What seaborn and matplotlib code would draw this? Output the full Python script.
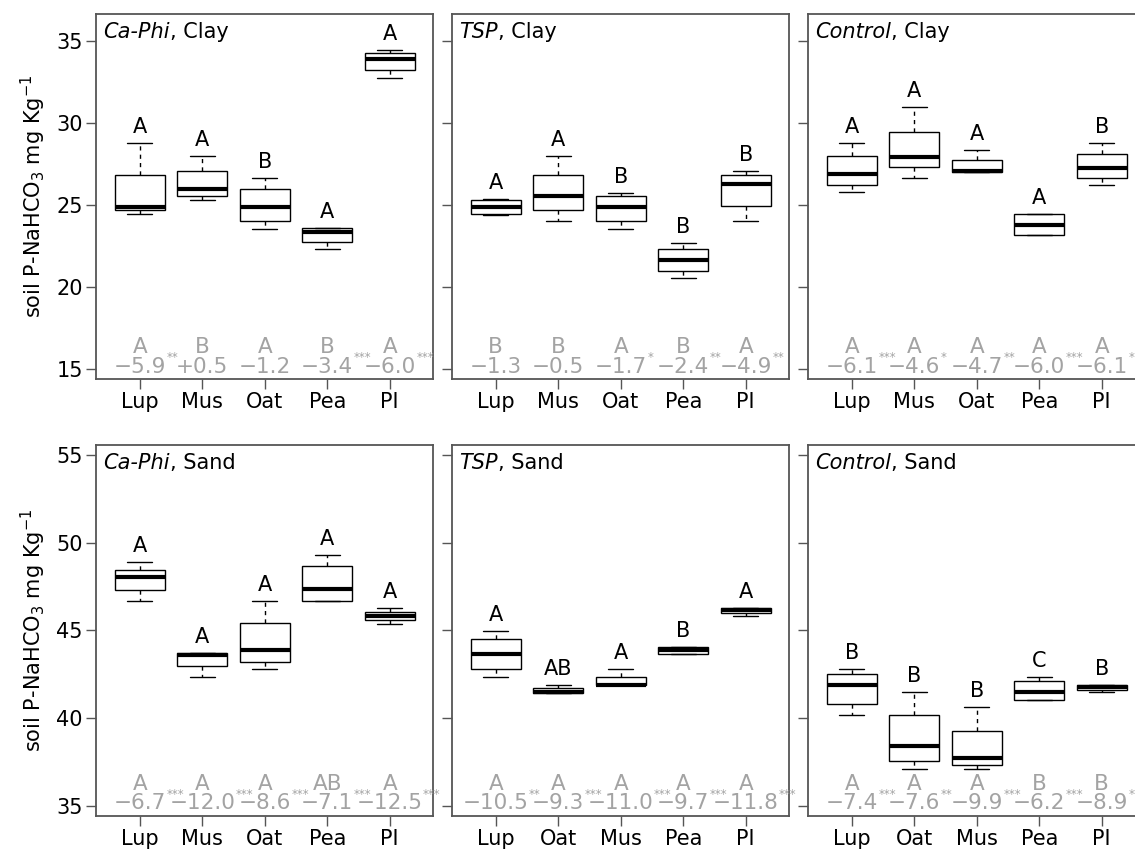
"""
Soil P-NaHCO3 por cultura, fertilizante e solo — recriação do painel 2x3.
Cada caixa é desenhada a partir de cinco valores lidos da figura:
bigode inferior, Q1, mediana, Q3, bigode superior.
"""

import matplotlib
matplotlib.use("Agg")
import matplotlib.pyplot as plt
import pandas as pd
import seaborn as sns

# ── Categorias ─────────────────────────────────────────────────────────────────
CROPS_CLAY = ["Lup", "Mus", "Oat", "Pea", "PI"]
CROPS_SAND_CAPHI = ["Lup", "Mus", "Oat", "Pea", "PI"]
CROPS_SAND_OTHER = ["Lup", "Oat", "Mus", "Pea", "PI"]

# ── Caixas: [bigode inf, Q1, mediana, Q3, bigode sup] ──────────────────────────
CAPHI_CLAY = [
    [24.45, 24.68, 24.88, 26.85, 28.80],
    [25.30, 25.53, 25.98, 27.07, 27.97],
    [23.56, 24.02, 24.88, 25.98, 26.63],
    [22.30, 22.72, 23.37, 23.58, 23.60],
    [32.74, 33.23, 33.92, 34.29, 34.47],
]
TSP_CLAY = [
    [24.40, 24.45, 24.90, 25.30, 25.35],
    [24.02, 24.68, 25.55, 26.85, 27.97],
    [23.56, 24.02, 24.90, 25.55, 25.75],
    [20.53, 20.96, 21.63, 22.30, 22.70],
    [24.02, 24.94, 26.28, 26.85, 27.07],
]
CONTROL_CLAY = [
    [25.77, 26.20, 26.87, 27.97, 28.80],
    [26.63, 27.30, 27.95, 29.47, 30.99],
    [27.00, 27.00, 27.07, 27.72, 28.37],
    [23.15, 23.15, 23.80, 24.43, 24.45],
    [26.22, 26.63, 27.26, 28.09, 28.80],
]
CAPHI_SAND = [
    [46.70, 47.32, 48.03, 48.45, 48.87],
    [42.33, 42.98, 43.60, 43.70, 43.72],
    [42.77, 43.19, 43.86, 45.40, 46.70],
    [46.70, 46.70, 47.34, 48.66, 49.30],
    [45.38, 45.61, 45.82, 46.03, 46.27],
]
TSP_SAND = [
    [42.33, 42.79, 43.64, 44.52, 44.96],
    [41.42, 41.42, 41.48, 41.69, 41.90],
    [41.86, 41.86, 41.91, 42.33, 42.77],
    [43.67, 43.67, 43.87, 44.07, 44.07],
    [45.80, 45.99, 46.14, 46.27, 46.27],
]
CONTROL_SAND = [
    [40.18, 40.81, 41.91, 42.52, 42.77],
    [37.10, 37.53, 38.43, 40.16, 41.46],
    [37.10, 37.33, 37.74, 39.27, 40.60],
    [41.04, 41.04, 41.48, 42.10, 42.33],
    [41.48, 41.62, 41.77, 41.90, 41.90],
]

# ── Letras sobre as caixas ─────────────────────────────────────────────────────
LET_CAPHI_CLAY = ["A", "A", "B", "A", "A"]
LET_TSP_CLAY = ["A", "A", "B", "B", "B"]
LET_CONTROL_CLAY = ["A", "A", "A", "A", "B"]
LET_CAPHI_SAND = ["A", "A", "A", "A", "A"]
LET_TSP_SAND = ["A", "AB", "A", "B", "A"]
LET_CONTROL_SAND = ["B", "B", "B", "C", "B"]

# ── Rodapé cinza: letra, variação, significância ───────────────────────────────
GL_CAPHI_CLAY = ["A", "B", "A", "B", "A"]
CHG_CAPHI_CLAY = ["−5.9", "+0.5", "−1.2", "−3.4", "−6.0"]
SIG_CAPHI_CLAY = ["**", "", "", "***", "***"]

GL_TSP_CLAY = ["B", "B", "A", "B", "A"]
CHG_TSP_CLAY = ["−1.3", "−0.5", "−1.7", "−2.4", "−4.9"]
SIG_TSP_CLAY = ["", "", "*", "**", "**"]

GL_CONTROL_CLAY = ["A", "A", "A", "A", "A"]
CHG_CONTROL_CLAY = ["−6.1", "−4.6", "−4.7", "−6.0", "−6.1"]
SIG_CONTROL_CLAY = ["***", "*", "**", "***", "*"]

GL_CAPHI_SAND = ["A", "A", "A", "AB", "A"]
CHG_CAPHI_SAND = ["−6.7", "−12.0", "−8.6", "−7.1", "−12.5"]
SIG_CAPHI_SAND = ["***", "***", "***", "***", "***"]

GL_TSP_SAND = ["A", "A", "A", "A", "A"]
CHG_TSP_SAND = ["−10.5", "−9.3", "−11.0", "−9.7", "−11.8"]
SIG_TSP_SAND = ["**", "***", "***", "***", "***"]

GL_CONTROL_SAND = ["A", "A", "A", "B", "B"]
CHG_CONTROL_SAND = ["−7.4", "−7.6", "−9.9", "−6.2", "−8.9"]
SIG_CONTROL_SAND = ["***", "**", "***", "***", "**"]

PANELS = [
    # (tratamento, solo, culturas, caixas, letras, letras cinza, variação, sig)
    ("Ca-Phi", "Clay", CROPS_CLAY, CAPHI_CLAY, LET_CAPHI_CLAY,
     GL_CAPHI_CLAY, CHG_CAPHI_CLAY, SIG_CAPHI_CLAY),
    ("TSP", "Clay", CROPS_CLAY, TSP_CLAY, LET_TSP_CLAY,
     GL_TSP_CLAY, CHG_TSP_CLAY, SIG_TSP_CLAY),
    ("Control", "Clay", CROPS_CLAY, CONTROL_CLAY, LET_CONTROL_CLAY,
     GL_CONTROL_CLAY, CHG_CONTROL_CLAY, SIG_CONTROL_CLAY),
    ("Ca-Phi", "Sand", CROPS_SAND_CAPHI, CAPHI_SAND, LET_CAPHI_SAND,
     GL_CAPHI_SAND, CHG_CAPHI_SAND, SIG_CAPHI_SAND),
    ("TSP", "Sand", CROPS_SAND_OTHER, TSP_SAND, LET_TSP_SAND,
     GL_TSP_SAND, CHG_TSP_SAND, SIG_TSP_SAND),
    ("Control", "Sand", CROPS_SAND_OTHER, CONTROL_SAND, LET_CONTROL_SAND,
     GL_CONTROL_SAND, CHG_CONTROL_SAND, SIG_CONTROL_SAND),
]

Y_TICKS = {"Clay": [15, 20, 25, 30, 35], "Sand": [35, 40, 45, 50, 55]}
Y_LIMS = {"Clay": (14.39, 36.65), "Sand": (34.41, 55.57)}

GREY = "#a3a3a3"
FRAME = "#555555"
FS = 15

# ── Layout em pixels (figura 1135x849) ─────────────────────────────────────────
W, H = 1135, 849
COL_LEFT = [96, 452, 808]
COL_W = 337.5
ROW_TB = [(14, 379), (445, 816)]


def _draw_panel(ax, treatment, soil, crops, boxes, letters, grey_letters, changes, sigs, first_col):
    df = pd.DataFrame(
        [(crop, v) for crop, five in zip(crops, boxes) for v in five],
        columns=["crop", "value"],
    )
    sns.boxplot(
        data=df, x="crop", y="value", order=crops, ax=ax,
        color="white", linecolor="black", linewidth=1.0, width=0.8,
        saturation=1, whis=(0, 100), showfliers=False,
        whiskerprops={"linestyle": (0, (3, 3))},
        medianprops={"linewidth": 3.0, "color": "black"},
    )
    ax.set_xlim(-0.7, 4.7)
    ax.set_ylim(*Y_LIMS[soil])
    ax.set_yticks(Y_TICKS[soil])
    ax.set_xlabel("")

    for s in ax.spines.values():
        s.set_visible(True)
        s.set_color(FRAME)
        s.set_linewidth(1.3)
    ax.tick_params(axis="both", length=7.5, width=1, color=FRAME, labelsize=FS, labelcolor="black")
    ax.tick_params(axis="x", pad=2)
    ax.tick_params(axis="y", pad=2)

    if first_col:
        ax.set_ylabel(r"soil P-NaHCO$_3$ mg Kg$^{-1}$", fontsize=FS, color="black")
        ax.yaxis.set_label_coords(-0.142, 0.5)
    else:
        ax.set_ylabel("")
        ax.tick_params(axis="y", labelleft=False)

    # título: tratamento em itálico + solo
    t1 = ax.text(0.021, 0.951, treatment, transform=ax.transAxes, style="italic",
                 fontsize=FS, ha="left", va="center", color="black")
    ax.annotate(f", {soil}", xy=(1, 0), xycoords=t1, ha="left", va="bottom",
                fontsize=FS, color="black")

    # letras acima do bigode superior
    for i, (five, let) in enumerate(zip(boxes, letters)):
        ax.annotate(let, xy=(i, max(five)), xytext=(0, 11.5), textcoords="offset points",
                    ha="center", va="center", fontsize=FS, color="black")

    # rodapé cinza
    trans = ax.get_xaxis_transform()
    for i, (gl, chg, sig) in enumerate(zip(grey_letters, changes, sigs)):
        num = ax.text(i, 0.034, chg, transform=trans, ha="center", va="center",
                      color=GREY, fontsize=15.5)
        ax.annotate(gl, xy=(i, 0.034), xycoords=trans, xytext=(0, 14), textcoords="offset points",
                    ha="center", va="center", color=GREY, fontsize=15.5)
        if sig:
            ax.annotate(sig, xy=(1, 1), xycoords=num, xytext=(0.2, 4), textcoords="offset points",
                        ha="left", va="top", color=GREY, fontsize=8.5)


def main() -> None:
    sns.set_theme(style="ticks")
    plt.rcParams["font.family"] = ["DejaVu Sans"]
    plt.rcParams["mathtext.fontset"] = "dejavusans"
    plt.rcParams["text.color"] = "black"
    plt.rcParams["axes.labelcolor"] = "black"

    fig = plt.figure(figsize=(W / 100, H / 100), dpi=100)
    for k, panel in enumerate(PANELS):
        row, col = divmod(k, 3)
        top, bottom = ROW_TB[row]
        rect = [COL_LEFT[col] / W, 1 - bottom / H, COL_W / W, (bottom - top) / H]
        ax = fig.add_axes(rect)
        _draw_panel(ax, *panel, first_col=(col == 0))

    fig.savefig("out.png", dpi=100)
    plt.close(fig)


if __name__ == "__main__":
    main()
